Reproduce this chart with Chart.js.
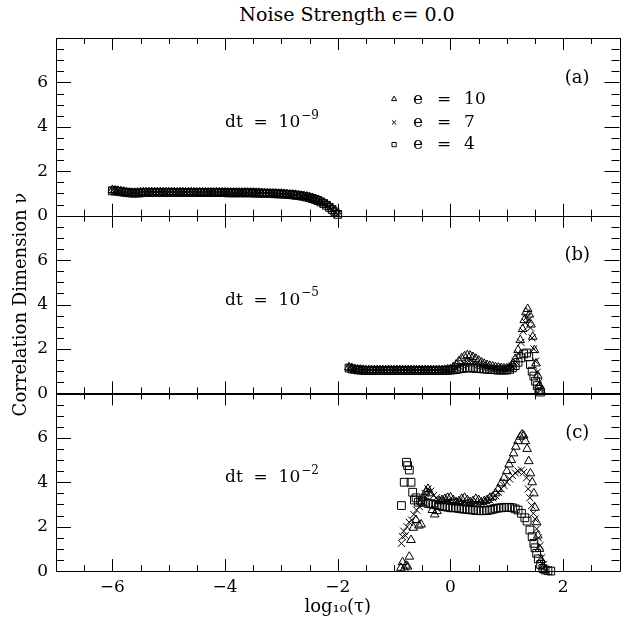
<!DOCTYPE html>
<html>
<head>
<meta charset="utf-8">
<script src="https://cdn.jsdelivr.net/npm/chart.js@4.4.1/dist/chart.umd.min.js"></script>
<style>
  html, body { margin: 0; padding: 0; background: #fff; }
  #wrap { position: relative; width: 626px; height: 621px; }
  #wrap canvas { position: absolute; left: 0; top: 0; }
  #title {
    position: absolute; left: 347px; top: 3px; transform: translateX(-50%);
    font: 19px "DejaVu Serif", serif; color: #000; white-space: nowrap;
  }
</style>
</head>
<body>
<div id="wrap">
  <div id="title">Noise Strength ϵ= 0.0</div>
  <canvas id="panelA" width="626" height="621"></canvas>
  <canvas id="panelB" width="626" height="621"></canvas>
  <canvas id="panelC" width="626" height="621"></canvas>
</div>
<script>
// ---- data ----
const eValues = [10, 7, 4];
const xTicks = [-6, -4, -2, 0, 2];
const yTicks = [0, 2, 4, 6];

// (a) dt = 1e-9
const aX   = [-6.00,-5.95,-5.90,-5.85,-5.80,-5.75,-5.70,-5.65,-5.60,-5.55,
              -5.50,-5.45,-5.40,-5.35,-5.30,-5.25,-5.20,-5.15,-5.10,-5.05,
              -5.00,-4.95,-4.90,-4.85,-4.80,-4.75,-4.70,-4.65,-4.60,-4.55,
              -4.50,-4.45,-4.40,-4.35,-4.30,-4.25,-4.20,-4.15,-4.10,-4.05,
              -4.00,-3.95,-3.90,-3.85,-3.80,-3.75,-3.70,-3.65,-3.60,-3.55,
              -3.50,-3.45,-3.40,-3.35,-3.30,-3.25,-3.20,-3.15,-3.10,-3.05,
              -3.00,-2.95,-2.90,-2.85,-2.80,-2.75,-2.70,-2.65,-2.60,-2.55,
              -2.50,-2.45,-2.40,-2.35,-2.30,-2.25,-2.20,-2.15,-2.10,-2.05,-2.00];
const aY10 = [1.16,1.14,1.12,1.10,1.08,1.06,1.04,1.03,1.03,1.04,
              1.05,1.06,1.06,1.06,1.06,1.06,1.06,1.06,1.06,1.06,
              1.06,1.06,1.06,1.05,1.06,1.06,1.05,1.05,1.06,1.05,
              1.05,1.05,1.05,1.05,1.05,1.05,1.05,1.05,1.05,1.05,
              1.05,1.04,1.04,1.04,1.04,1.04,1.04,1.04,1.04,1.04,
              1.04,1.03,1.03,1.02,1.02,1.01,1.01,1.00,1.00,0.99,
              0.99,0.98,0.97,0.96,0.95,0.94,0.92,0.90,0.88,0.86,
              0.83,0.79,0.75,0.70,0.64,0.57,0.49,0.40,0.30,0.19,0.08];
const aY7  = [1.14,1.12,1.10,1.08,1.07,1.05,1.04,1.02,1.02,1.03,
              1.04,1.05,1.05,1.05,1.05,1.05,1.05,1.05,1.05,1.05,
              1.05,1.05,1.05,1.05,1.05,1.05,1.05,1.05,1.05,1.05,
              1.05,1.04,1.04,1.04,1.04,1.04,1.04,1.04,1.04,1.04,
              1.04,1.04,1.04,1.03,1.03,1.03,1.03,1.03,1.03,1.03,
              1.03,1.03,1.02,1.02,1.01,1.01,1.00,1.00,0.99,0.99,
              0.98,0.97,0.97,0.95,0.94,0.93,0.91,0.89,0.87,0.85,
              0.82,0.78,0.74,0.69,0.63,0.56,0.48,0.39,0.29,0.18,0.07];
const aY4  = [1.12,1.11,1.10,1.08,1.06,1.05,1.03,1.02,1.02,1.02,
              1.03,1.04,1.04,1.04,1.04,1.05,1.05,1.05,1.05,1.05,
              1.05,1.04,1.04,1.04,1.04,1.04,1.04,1.04,1.04,1.04,
              1.04,1.04,1.04,1.04,1.04,1.04,1.04,1.04,1.04,1.04,
              1.04,1.03,1.03,1.03,1.03,1.03,1.03,1.03,1.03,1.03,
              1.02,1.02,1.02,1.01,1.01,1.00,1.00,0.99,0.99,0.98,
              0.98,0.97,0.96,0.95,0.94,0.92,0.91,0.89,0.87,0.84,
              0.81,0.77,0.73,0.68,0.62,0.55,0.47,0.38,0.28,0.17,0.06];

// (b) dt = 1e-5
const bFlatX = [-1.80,-1.75,-1.70,-1.65,-1.60,-1.55,-1.50,-1.45,-1.40,-1.35,
                -1.30,-1.25,-1.20,-1.15,-1.10,-1.05,-1.00,-0.95,-0.90,-0.85,
                -0.80,-0.75,-0.70,-0.65,-0.60,-0.55,-0.50,-0.45,-0.40,-0.35,
                -0.30,-0.25,-0.20,-0.15,-0.10,-0.05,0.00];
const bX10 = bFlatX.concat([0.05,0.1,0.15,0.2,0.25,0.3,0.35,0.4,0.45,0.5,0.55,0.6,
              0.65,0.7,0.75,0.8,0.85,0.9,0.95,1.0,1.05,1.1,1.15,1.2,
              1.24,1.28,1.31,1.34,1.37,1.4,1.43,1.46,1.49,1.52,1.55,1.58,1.61]);
const bY10 = [1.18,1.14,1.10,1.08,1.07,1.06,1.05,1.05,1.05,1.05,
              1.05,1.05,1.05,1.05,1.05,1.05,1.05,1.05,1.05,1.05,
              1.05,1.05,1.05,1.05,1.05,1.05,1.05,1.05,1.05,1.05,
              1.05,1.05,1.05,1.05,1.06,1.08,1.10,
              1.18,1.30,1.45,1.58,1.67,1.72,1.70,1.64,1.56,1.48,1.40,1.33,
              1.28,1.24,1.21,1.18,1.16,1.14,1.13,1.13,1.16,1.30,1.55,1.95,
              2.40,2.90,3.30,3.65,3.80,3.55,3.10,2.55,1.95,1.35,0.80,0.35,0.10];
const bX7  = bFlatX.concat([0.05,0.1,0.15,0.2,0.25,0.3,0.35,0.4,0.45,0.5,
              0.55,0.6,0.65,0.7,0.75,0.8,0.85,0.9,0.95,1.0,
              1.05,1.1,1.15,1.2,1.25,1.29,1.33,1.36,1.39,1.42,1.45,1.48,1.51,1.54,1.57,1.6]);
const bY7  = [1.16,1.12,1.09,1.07,1.06,1.05,1.04,1.04,1.04,1.04,
              1.04,1.04,1.04,1.04,1.04,1.04,1.04,1.04,1.04,1.04,
              1.04,1.04,1.04,1.04,1.04,1.04,1.04,1.04,1.04,1.04,
              1.04,1.04,1.04,1.04,1.05,1.06,1.07,
              1.10,1.15,1.22,1.28,1.34,1.38,1.39,1.38,1.34,1.30,
              1.26,1.22,1.18,1.15,1.12,1.10,1.09,1.08,1.08,1.08,
              1.12,1.22,1.45,1.80,2.30,2.80,3.20,3.45,3.30,2.95,2.50,2.00,1.45,0.95,0.50,0.15];
const bX4  = bFlatX.concat([0.05,0.1,0.15,0.2,0.25,0.3,0.35,0.4,0.45,0.5,
              0.55,0.6,0.65,0.7,0.75,0.8,0.85,0.9,0.95,1.0,
              1.05,1.1,1.15,1.2,1.25,1.3,1.35,1.39,1.42,1.45,1.48,1.51,1.54,1.57,1.6]);
const bY4  = [1.14,1.10,1.08,1.06,1.05,1.04,1.03,1.03,1.03,1.03,
              1.03,1.03,1.03,1.03,1.03,1.03,1.03,1.03,1.03,1.03,
              1.03,1.03,1.03,1.03,1.03,1.03,1.03,1.03,1.03,1.03,
              1.03,1.03,1.03,1.03,1.04,1.04,1.05,
              1.06,1.08,1.10,1.12,1.14,1.15,1.15,1.14,1.13,1.12,
              1.11,1.10,1.09,1.08,1.07,1.06,1.05,1.05,1.05,1.05,
              1.08,1.15,1.25,1.40,1.60,1.78,1.82,1.65,1.30,1.00,0.78,0.55,0.35,0.18,0.06];

// (c) dt = 1e-2
const cX10 = [-0.88,-0.85,-0.82,-0.79,-0.76,-0.73,-0.70,-0.66,-0.61,-0.56,-0.52,-0.48,-0.44,-0.40,
              -0.36,-0.32,-0.28,-0.24,-0.2,-0.15,-0.1,-0.05,
              0.0,0.05,0.1,0.15,0.2,0.25,0.3,0.35,0.4,0.45,0.5,0.55,0.6,0.65,0.7,0.75,0.8,0.85,0.9,0.95,1.0,
              1.04,1.08,1.12,1.16,1.2,1.24,1.27,1.3,1.33,1.36,1.39,1.42,1.45,1.48,
              1.5,1.53,1.55,1.58,1.61,1.64,1.67];
const cY10 = [0.15,0.40,0.10,0.25,0.20,0.65,1.40,1.95,2.30,2.05,2.10,3.30,3.55,3.70,
              3.50,2.75,2.55,2.70,3.15,3.20,3.25,3.30,
              3.32,3.20,3.10,3.15,3.25,3.30,3.20,3.10,3.15,3.25,3.20,3.10,3.15,3.20,3.30,3.35,3.50,3.70,3.95,4.20,4.50,
              4.80,5.00,5.30,5.60,5.85,6.05,6.15,6.10,5.85,5.50,4.95,4.40,4.00,3.50,
              2.85,2.20,1.60,1.00,0.50,0.20,0.05];
const cX7  = [-0.87,-0.85,-0.83,-0.8,-0.77,-0.73,-0.69,-0.65,-0.6,-0.55,-0.5,-0.45,-0.4,-0.35,-0.3,-0.25,
              -0.2,-0.15,-0.1,-0.05,0.0,0.05,0.1,0.15,0.2,0.25,0.3,0.35,0.4,0.45,0.5,
              0.55,0.6,0.65,0.7,0.75,0.8,0.85,0.9,0.95,1.0,1.05,1.1,
              1.15,1.2,1.26,1.3,1.35,1.38,1.41,1.44,1.47,1.5,1.53,1.56,1.59,1.62,1.65,1.69];
const cY7  = [1.25,1.55,1.80,1.60,2.00,2.20,2.30,2.55,2.75,2.90,3.10,3.50,3.70,3.60,3.40,3.30,
              3.20,3.18,3.15,3.15,3.15,3.12,3.10,3.10,3.10,3.08,3.05,3.05,3.05,3.05,3.05,
              3.07,3.10,3.15,3.20,3.30,3.40,3.55,3.70,3.85,4.00,4.15,4.30,
              4.42,4.50,4.55,4.45,4.20,3.70,3.30,2.95,2.60,2.35,1.90,1.50,1.15,0.60,0.30,0.05];
const cX4  = [-0.87,-0.82,-0.78,-0.76,-0.73,-0.70,-0.67,-0.64,-0.61,-0.57,-0.53,
              -0.5,-0.45,-0.4,-0.35,-0.3,-0.25,-0.2,-0.15,-0.1,-0.05,
              0.0,0.05,0.1,0.15,0.2,0.25,0.3,0.35,0.4,0.45,
              0.5,0.55,0.6,0.65,0.7,0.75,0.8,0.85,0.9,0.95,
              1.0,1.05,1.1,1.15,1.2,
              1.26,1.32,1.36,1.41,1.45,1.48,1.5,1.53,1.56,1.6,1.64,1.68,1.73,1.78];
const cY4  = [2.95,4.00,4.90,4.75,4.55,4.00,3.55,3.20,3.30,3.10,3.20,
              3.15,3.10,3.05,3.03,3.00,2.98,2.95,2.92,2.90,2.88,
              2.85,2.85,2.85,2.82,2.80,2.79,2.78,2.76,2.75,2.73,
              2.72,2.72,2.72,2.73,2.75,2.78,2.82,2.84,2.85,2.86,
              2.87,2.87,2.85,2.80,2.75,
              2.60,2.40,2.25,1.85,1.55,1.25,1.05,0.80,0.55,0.30,0.12,0.05,0.02,0.00];

// ---- drawing ----
const FONT = '"DejaVu Serif", serif';
const H = 621;
const STYLES = [
  { pointStyle: 'triangle', pointRadius: 5 },
  { pointStyle: 'crossRot', pointRadius: 5 },
  { pointStyle: 'rect', pointRadius: 5.5 }
];
const minus = v => String(v).replace('-', '\u2212');

function series(xs, ys, k) {
  return {
    data: xs.map((v, i) => ({ x: v, y: ys[i] })),
    pointStyle: STYLES[k].pointStyle,
    pointRadius: STYLES[k].pointRadius,
    borderColor: '#000',
    backgroundColor: 'rgba(0,0,0,0)',
    borderWidth: 1,
    clip: false
  };
}

// frame + inward ticks on all four sides
const frameTicks = {
  id: 'frameTicks',
  afterDatasetsDraw(chart) {
    const { ctx, chartArea: a, scales: { x, y } } = chart;
    const px = v => Math.round(v) + 0.5;
    ctx.save();
    ctx.strokeStyle = '#000';
    ctx.lineWidth = 1;
    ctx.beginPath();
    ctx.rect(px(a.left), px(a.top), Math.round(a.right - a.left), Math.round(a.bottom - a.top));
    for (let k = -14; k <= 6; k++) {
      const v = k / 2, len = (k % 4 === 0) ? 12 : 6;
      const xp = px(x.getPixelForValue(v));
      ctx.moveTo(xp, a.bottom); ctx.lineTo(xp, a.bottom - len);
      ctx.moveTo(xp, a.top);    ctx.lineTo(xp, a.top + len);
    }
    for (let k = 0; k <= 16; k++) {
      const v = k / 2, len = (k % 4 === 0) ? 15 : 8;
      const yp = px(y.getPixelForValue(v));
      ctx.moveTo(a.left, yp);  ctx.lineTo(a.left + len, yp);
      ctx.moveTo(a.right, yp); ctx.lineTo(a.right - len, yp);
    }
    ctx.stroke();
    ctx.restore();
  }
};

// panel tag, dt label and (panel a) the marker key
const panelText = {
  id: 'panelText',
  afterDraw(chart, args, o) {
    const { ctx, scales: { x, y } } = chart;
    ctx.save();
    ctx.fillStyle = '#000';
    ctx.textBaseline = 'middle';
    ctx.font = `18px ${FONT}`;
    ctx.textAlign = 'center';
    ctx.fillText(o.tag, x.getPixelForValue(2.25), y.getPixelForValue(6.2));

    ctx.textAlign = 'left';
    const dx = x.getPixelForValue(-4.0), dy = y.getPixelForValue(4.2);
    ctx.font = `17px ${FONT}`;
    const base = 'dt  =  10';
    ctx.fillText(base, dx, dy);
    const w = ctx.measureText(base).width;
    ctx.font = `12px ${FONT}`;
    ctx.fillText(o.exp, dx + w + 1, dy - 7);

    if (o.key) {
      const rowsY = [5.25, 4.2, 3.2];
      eValues.forEach((e, i) => {
        const mx = x.getPixelForValue(-1.0), my = y.getPixelForValue(rowsY[i]);
        ctx.strokeStyle = '#000';
        ctx.fillStyle = 'rgba(0,0,0,0)';
        ctx.lineWidth = 1;
        Chart.helpers.drawPoint(ctx, { pointStyle: STYLES[i].pointStyle, radius: 3, borderWidth: 1, rotation: 0 }, mx, my);
        ctx.fillStyle = '#000';
        ctx.font = `17px ${FONT}`;
        ctx.textAlign = 'left';
        ctx.fillText('e', mx + 19, my);
        ctx.textAlign = 'center';
        ctx.fillText('=', mx + 50, my);
        ctx.textAlign = 'left';
        ctx.fillText(String(e), mx + 70, my);
      });
    }
    ctx.restore();
  }
};

function panel(id, top, bottom, sets, opts) {
  const last = !!opts.last;
  return new Chart(document.getElementById(id), {
    type: 'scatter',
    data: { datasets: sets },
    options: {
      responsive: false,
      animation: false,
      events: [],
      layout: { padding: { top: top, bottom: last ? 0 : H - bottom, left: 0, right: 1 } },
      plugins: { legend: { display: false }, tooltip: { enabled: false }, panelText: opts },
      scales: {
        x: {
          type: 'linear', min: -7, max: 3, display: last,
          grid: { display: false, drawTicks: false }, border: { display: false },
          afterBuildTicks: s => { s.ticks = xTicks.map(v => ({ value: v })); },
          afterFit: s => { s.height = last ? H - bottom : 0; },
          ticks: { color: '#000', font: { family: FONT, size: 17 }, padding: 6, callback: minus },
          title: { display: last, text: 'log\u2081\u2080(\u03c4)', color: '#000',
                   font: { family: FONT, size: 18 }, padding: { top: 0, bottom: 3 } }
        },
        y: {
          min: 0, max: 8,
          grid: { display: false, drawTicks: false }, border: { display: false },
          afterBuildTicks: s => { s.ticks = yTicks.map(v => ({ value: v })); },
          afterFit: s => { s.width = 56; },
          ticks: { color: '#000', font: { family: FONT, size: 17 }, padding: 8 },
          title: { display: !!opts.yTitle, text: 'Correlation Dimension \u03bd', color: '#000',
                   font: { family: FONT, size: 18 }, padding: { top: 11, bottom: 0 } }
        }
      }
    },
    plugins: [frameTicks, panelText]
  });
}

const PT = 38, PH = 177.7;
panel('panelA', PT, PT + PH, [series(aX, aY10, 0), series(aX, aY7, 1), series(aX, aY4, 2)],
      { tag: '(a)', exp: '\u22129', key: true });
panel('panelB', PT + PH, PT + 2 * PH, [series(bX10, bY10, 0), series(bX7, bY7, 1), series(bX4, bY4, 2)],
      { tag: '(b)', exp: '\u22125', yTitle: true });
panel('panelC', PT + 2 * PH, PT + 3 * PH, [series(cX10, cY10, 0), series(cX7, cY7, 1), series(cX4, cY4, 2)],
      { tag: '(c)', exp: '\u22122', last: true });
</script>
</body>
</html>
